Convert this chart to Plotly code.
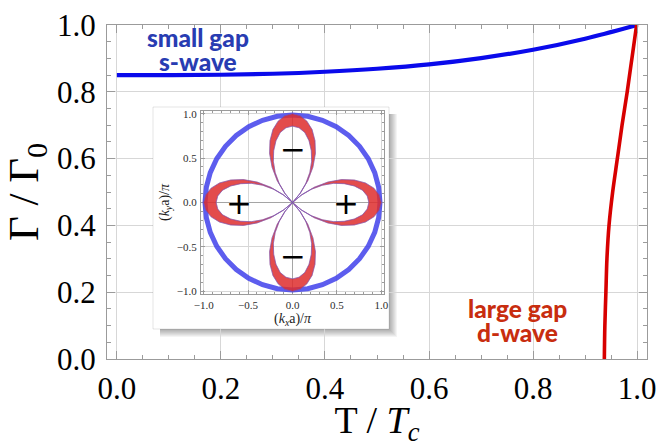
import plotly.graph_objects as go

# ---------------- data ----------------
# main panel: relaxation rate vs reduced temperature
swave_T = [0.0, 0.1, 0.2, 0.3, 0.4, 0.5, 0.6, 0.7, 0.8, 0.9, 1.0]
swave_rate = [0.850, 0.850, 0.851, 0.854, 0.860, 0.869, 0.882, 0.901, 0.926, 0.959, 1.000]

dwave_rate = [0.0, 0.1, 0.2, 0.3, 0.4, 0.5, 0.6, 0.7, 0.8, 0.9, 1.0]
dwave_T = [0.937, 0.938, 0.940, 0.942, 0.946, 0.953, 0.962, 0.971, 0.981, 0.990, 0.999]

# inset: gap structure in k-space (polar)
swave_radius = 0.985
circle_theta = list(range(0, 361, 10))

lobe_theta = [0, 5, 10, 15, 20, 25, 30, 35, 40, 45]
lobe_outer = [1.00, 0.98, 0.93, 0.85, 0.74, 0.61, 0.46, 0.30, 0.14, 0.0]
lobe_inner = [0.86, 0.845, 0.80, 0.72, 0.62, 0.51, 0.39, 0.26, 0.125, 0.0]
lobe_axes = [0, 90, 180, 270]

sign_x = [0.6, -0.6, 0.0, 0.0]
sign_y = [0.0, 0.0, 0.6, -0.6]
sign_text = ["+", "+", "\u2212", "\u2212"]

label_lines = ["small gap", "s-wave", "large gap", "d-wave"]
label_x = [0.155, 0.155, 0.771, 0.771]
label_y = [0.964, 0.891, 0.152, 0.078]
label_colors = ["rgb(40,60,178)", "rgb(40,60,178)", "rgb(200,45,15)", "rgb(200,45,15)"]

# ---------------- layout helpers ----------------
W, H = 660, 447
ML, MR, MT, MB = 107, 13, 25, 88
PW, PH = W - ML - MR, H - MT - MB


def px_x(p):
    return (p - ML) / PW


def px_y(p):
    return (H - MB - p) / PH


SERIF = "Liberation Serif"
GREY = "rgb(155,155,155)"
GRID = "rgb(215,215,215)"

fig = go.Figure()

# main curves
fig.add_trace(go.Scatter(x=swave_T, y=swave_rate, mode="lines",
                         line=dict(color="rgb(10,10,235)", width=4.2, shape="spline"),
                         cliponaxis=False, hoverinfo="skip", showlegend=False))
fig.add_trace(go.Scatter(x=dwave_T, y=dwave_rate, mode="lines",
                         line=dict(color="rgb(215,0,0)", width=3.6, shape="spline"),
                         cliponaxis=False, hoverinfo="skip", showlegend=False))

# box subplot (white card) and inset frame subplot
fig.add_trace(go.Scatter(x=[], y=[], xaxis="x2", yaxis="y2", showlegend=False))
fig.add_trace(go.Scatter(x=[], y=[], xaxis="x3", yaxis="y3", showlegend=False))

# inset polar content
fig.add_trace(go.Scatterpolar(r=[swave_radius] * len(circle_theta), theta=circle_theta,
                              mode="lines", line=dict(color="rgba(65,65,235,0.85)", width=5),
                              hoverinfo="skip", showlegend=False))
for a in lobe_axes:
    outer_th = [a - t for t in reversed(lobe_theta)] + [a + t for t in lobe_theta[1:]]
    outer_r = list(reversed(lobe_outer)) + lobe_outer[1:]
    inner_th = [a + t for t in reversed(lobe_theta)] + [a - t for t in lobe_theta[1:]]
    inner_r = list(reversed(lobe_inner)) + lobe_inner[1:]
    fig.add_trace(go.Scatterpolar(r=outer_r + inner_r, theta=outer_th + inner_th,
                                  mode="lines", fill="toself",
                                  fillcolor="rgba(222,45,45,0.85)",
                                  line=dict(color="rgba(222,45,45,0.6)", width=0.5),
                                  hoverinfo="skip", showlegend=False))
    for rr in (outer_r, inner_r[::-1]):
        fig.add_trace(go.Scatterpolar(r=rr, theta=outer_th, mode="lines",
                                      line=dict(color="rgba(105,90,200,0.75)", width=0.8),
                                      hoverinfo="skip", showlegend=False))

# ---------------- axes ----------------
tickfont_main = dict(family=SERIF, size=31, color="black")
fig.update_layout(
    width=W, height=H,
    margin=dict(l=ML, r=MR, t=MT, b=MB, autoexpand=False),
    paper_bgcolor="white", plot_bgcolor="white",
    xaxis=dict(range=[-0.019, 1.019], tick0=0, dtick=0.2, tickformat=".1f",
               ticks="inside", ticklen=8, tickcolor=GREY, tickwidth=1,
               minor=dict(dtick=0.05, tick0=0, ticks="inside", ticklen=4,
                          tickcolor=GREY, showgrid=False),
               showline=True, linecolor=GREY, linewidth=1, mirror="ticks",
               showgrid=True, gridcolor=GRID, zeroline=False,
               tickfont=tickfont_main, ticklabelstandoff=2,
               title=dict(text="T / <i>T</i><sub><i>c</i></sub>",
                          font=dict(family=SERIF, size=38, color="black"), standoff=6)),
    yaxis=dict(range=[0, 1], tick0=0, dtick=0.2, tickformat=".1f",
               ticks="inside", ticklen=8, tickcolor=GREY, tickwidth=1,
               minor=dict(dtick=0.05, tick0=0, ticks="inside", ticklen=4,
                          tickcolor=GREY, showgrid=False),
               showline=True, linecolor=GREY, linewidth=1, mirror="ticks",
               showgrid=True, gridcolor=GRID, zeroline=False,
               tickfont=tickfont_main, ticklabelstandoff=4,
               title=dict(text="\u0393 / \u0393<sub>0</sub>",
                          font=dict(family=SERIF, size=43, color="black"), standoff=16)),
    xaxis2=dict(domain=[px_x(153), px_x(389)], anchor="y2", range=[0, 1], visible=False),
    yaxis2=dict(domain=[px_y(329), px_y(107)], anchor="x2", range=[0, 1], visible=False),
)

inset_dom_x = [px_x(201), px_x(384)]
inset_dom_y = [px_y(294), px_y(111)]
inset_axis = dict(range=[-1.03, 1.03], tick0=0, dtick=0.5, tickformat=".1f",
                  ticks="inside", ticklen=4, tickcolor=GREY, tickwidth=1,
                  minor=dict(dtick=0.1, tick0=0, ticks="inside", ticklen=2,
                             tickcolor=GREY, showgrid=False),
                  showline=True, linecolor=GREY, linewidth=1, mirror="ticks",
                  showgrid=True, gridcolor=GRID, zeroline=True,
                  zerolinecolor="rgb(165,165,165)", zerolinewidth=1,
                  tickfont=dict(family=SERIF, size=11, color="rgb(45,45,45)"),
                  ticklabelstandoff=1)
fig.update_layout(
    xaxis3=dict(inset_axis, domain=inset_dom_x, anchor="y3",
                title=dict(text="(<i>k</i><sub><i>x</i></sub>a)/<i>\u03c0</i>",
                           font=dict(family=SERIF, size=14, color="rgb(30,30,30)"), standoff=1)),
    yaxis3=dict(inset_axis, domain=inset_dom_y, anchor="x3",
                title=dict(text="(<i>k</i><sub><i>y</i></sub>a)/<i>\u03c0</i>",
                           font=dict(family=SERIF, size=14, color="rgb(30,30,30)"), standoff=3)),
    polar=dict(domain=dict(x=inset_dom_x, y=inset_dom_y), bgcolor="rgba(0,0,0,0)",
               radialaxis=dict(visible=False, range=[0, 1.03]),
               angularaxis=dict(visible=False, rotation=0, direction="counterclockwise")),
)

# ---------------- card shadow & border ----------------
shapes = []
for i in range(1, 9):
    shapes.append(dict(type="rect", xref="paper", yref="paper", layer="below",
                       x0=px_x(160), x1=px_x(389 + i), y0=px_y(329 + i), y1=px_y(114),
                       fillcolor="rgba(0,0,0,0.045)", line=dict(width=0)))
shapes.append(dict(type="rect", xref="paper", yref="paper", layer="above",
                   x0=px_x(153), x1=px_x(389), y0=px_y(329), y1=px_y(107),
                   fillcolor="rgba(0,0,0,0)", line=dict(width=1, color="rgba(0,0,0,0.10)")))
fig.update_layout(shapes=shapes)

# ---------------- annotations ----------------
ann = []
for lx, ly, lt, lc in zip(label_x, label_y, label_lines, label_colors):
    ann.append(dict(x=lx, y=ly, xref="x", yref="y", text=lt, showarrow=False,
                    font=dict(family="Lato", size=24.5, weight=900, color=lc)))
for sx, sy, st in zip(sign_x, sign_y, sign_text):
    ann.append(dict(x=sx, y=sy, xref="x3", yref="y3", text=st, showarrow=False,
                    font=dict(family="DejaVu Sans", size=31, color="black")))
fig.update_layout(annotations=ann)

fig.write_html("out.html", config={"displayModeBar": False},
               post_script="document.body.style.margin='0';document.body.style.padding='0';")
